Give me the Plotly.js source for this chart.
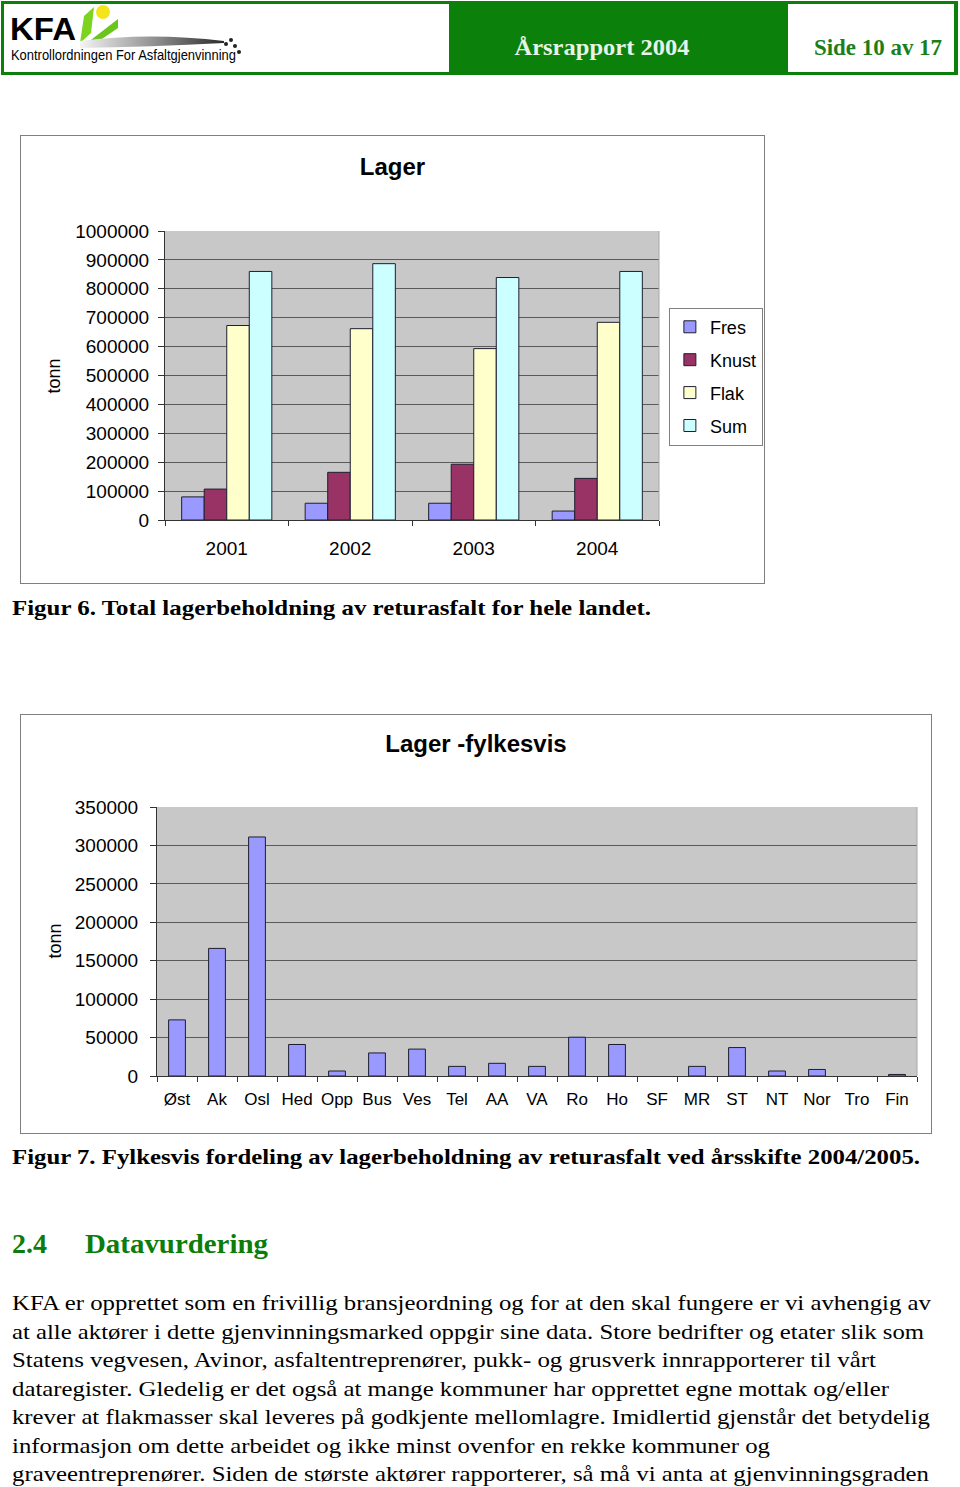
<!DOCTYPE html>
<html>
<head>
<meta charset="utf-8">
<script src="https://cdn.plot.ly/plotly-3.0.1.min.js"></script>
<style>
  html, body { margin:0; padding:0; background:#fff; }
  body { width:960px; height:1487px; position:relative; overflow:hidden; }
  #page { position:absolute; left:0; top:0; }
  .frame { position:absolute; border:1px solid #7f7f7f; background:#fff; }
  #chart1 { left:20px; top:135px; width:743px; height:447px; }
  #chart2 { left:20px; top:714px; width:910px; height:418px; }
</style>
</head>
<body>
<script>
// ---------- chart data ----------
const years = ['2001', '2002', '2003', '2004'];
const fres  = [80000, 58000, 58000, 31000];
const knust = [107000, 165000, 193000, 144000];
const flak  = [673000, 662000, 593000, 684000];
const sum   = [860000, 887000, 839000, 860000];

const fylker = ['Øst','Ak','Osl','Hed','Opp','Bus','Ves','Tel','AA','VA','Ro','Ho','SF','MR','ST','NT','Nor','Tro','Fin'];
const lager  = [73000, 166000, 311000, 41000, 6500, 30000, 35000, 12500, 16500, 12500, 50500, 41000, 0, 12500, 37000, 6500, 8500, 0, 2000];

// ---------- page text ----------
const caption6 = 'Figur 6. Total lagerbeholdning av returasfalt for hele landet.';
const caption7 = 'Figur 7. Fylkesvis fordeling av lagerbeholdning av returasfalt ved årsskifte 2004/2005.';
const paragraph = [
  'KFA er opprettet som en frivillig bransjeordning og for at den skal fungere er vi avhengig av',
  'at alle aktører i dette gjenvinningsmarked oppgir sine data. Store bedrifter og etater slik som',
  'Statens vegvesen, Avinor, asfaltentreprenører, pukk- og grusverk innrapporterer til vårt',
  'dataregister. Gledelig er det også at mange kommuner har opprettet egne mottak og/eller',
  'krever at flakmasser skal leveres på godkjente mellomlagre. Imidlertid gjenstår det betydelig',
  'informasjon om dette arbeidet og ikke minst ovenfor en rekke kommuner og',
  'graveentreprenører. Siden de største aktører rapporterer, så må vi anta at gjenvinningsgraden'
];
</script>

<svg id="page" width="960" height="1487" xmlns="http://www.w3.org/2000/svg">
  <defs>
    <linearGradient id="swoosh" x1="0" x2="1" y1="0" y2="0">
      <stop offset="0" stop-color="#f4f4f4"/>
      <stop offset="0.55" stop-color="#8a8a8a"/>
      <stop offset="1" stop-color="#2a2a2a"/>
    </linearGradient>
  </defs>
  <!-- header -->
  <rect x="1" y="1" width="957" height="74" fill="#0b800b"/>
  <rect x="4" y="4" width="445" height="68" fill="#ffffff"/>
  <rect x="788" y="4" width="166" height="68" fill="#ffffff"/>
  <!-- logo -->
  <polygon points="80,43 84,16 94,7 91,33" fill="#7ed321"/>
  <polygon points="87,43 118,19 118,28 96,43" fill="#6cc51c"/>
  <circle cx="103" cy="12" r="7" fill="#f4e51a"/>
  <path d="M80,41 Q150,32 224,41 L224,43 Q150,47 80,48 Z" fill="url(#swoosh)"/>
  <circle cx="226" cy="44" r="2" fill="#222"/>
  <circle cx="231" cy="40" r="2" fill="#222"/>
  <circle cx="235" cy="46" r="2" fill="#222"/>
  <circle cx="239" cy="52" r="2" fill="#222"/>
  <text x="10" y="40" font-family="Arial, 'Liberation Sans', sans-serif" font-weight="bold" font-size="32" fill="#000" textLength="66" lengthAdjust="spacingAndGlyphs">KFA</text>
  <text x="11" y="60" font-family="Arial, 'Liberation Sans', sans-serif" font-size="14" fill="#000" textLength="225" lengthAdjust="spacingAndGlyphs">Kontrollordningen For Asfaltgjenvinning</text>
  <text x="602" y="55" text-anchor="middle" font-family="'Liberation Serif', 'Times New Roman', serif" font-weight="bold" font-size="23" fill="#e6f3e6" textLength="175" lengthAdjust="spacingAndGlyphs">Årsrapport 2004</text>
  <text x="878" y="55" text-anchor="middle" font-family="'Liberation Serif', 'Times New Roman', serif" font-weight="bold" font-size="23" fill="#1a7f1a" textLength="128" lengthAdjust="spacingAndGlyphs">Side 10 av 17</text>
  <g id="bodytext" font-family="'Liberation Serif', 'Times New Roman', serif" fill="#000"></g>
</svg>

<div id="chart1" class="frame"></div>
<div id="chart2" class="frame"></div>

<script>
// ---------- body text into svg ----------
(function(){
  const NS = 'http://www.w3.org/2000/svg';
  const g = document.getElementById('bodytext');
  function addText(str, x, y, size, opts) {
    const t = document.createElementNS(NS, 'text');
    t.setAttribute('x', x); t.setAttribute('y', y);
    t.setAttribute('font-size', size);
    if (opts.bold) t.setAttribute('font-weight', 'bold');
    if (opts.fill) t.setAttribute('fill', opts.fill);
    if (opts.len) { t.setAttribute('textLength', opts.len); t.setAttribute('lengthAdjust', 'spacingAndGlyphs'); }
    t.textContent = str;
    g.appendChild(t);
  }
  addText(caption6, 12, 615, 22, {bold:true, len:639});
  addText(caption7, 12, 1164, 22, {bold:true, len:908});
  addText('2.4', 12, 1253, 27, {bold:true, fill:'#0b7d0b', len:35});
  addText('Datavurdering', 85, 1253, 27, {bold:true, fill:'#0b7d0b', len:183});
  const lineLen = [919, 912, 864, 877, 918, 758, 917];
  paragraph.forEach((s, i) => addText(s, 12, 1310 + i * 28.5, 22, {len: lineLen[i]}));
})();

// ---------- charts ----------
const FONT = 'Arial, "Liberation Sans", sans-serif';
const barLine = {color:'#1e1e30', width:1};

const series1 = [
  {name:'Fres',  y:fres,  color:'#9999ff'},
  {name:'Knust', y:knust, color:'#993366'},
  {name:'Flak',  y:flak,  color:'#ffffcc'},
  {name:'Sum',   y:sum,   color:'#ccffff'}
];
const traces1 = series1.map(s => ({
  type:'bar', x:years, y:s.y, name:s.name, legendgroup:s.name,
  marker:{color:s.color, line:barLine}
}));

const H1 = 447;
const layout1 = {
  width:743, height:H1,
  margin:{l:144, r:105, t:95, b:63, autoexpand:false},
  paper_bgcolor:'#ffffff', plot_bgcolor:'#c8c8c8',
  font:{family:FONT, color:'#000'},
  title:{text:'<b>Lager</b>', font:{size:24, family:FONT, color:'#000'}, x:0.5, xref:'container', xanchor:'center', y:1 - 31/H1, yref:'container', yanchor:'middle'},
  barmode:'group', bargap:0.27, bargroupgap:0,
  xaxis:{type:'category', showline:true, linecolor:'#333', linewidth:1, ticks:'outside', tickson:'boundaries', ticklen:5, tickcolor:'#333', tickfont:{size:19}, ticklabelstandoff:11, showgrid:false, zeroline:false, fixedrange:true, automargin:false},
  yaxis:{range:[0,1000000], dtick:100000, tickformat:'d', showline:true, linecolor:'#333', ticks:'outside', ticklen:6, tickcolor:'#333', tickfont:{size:19}, ticklabelstandoff:5, gridcolor:'#5a5a5a', gridwidth:1, zeroline:false, fixedrange:true, automargin:false},
  legend:{x:1.02, xanchor:'left', y:0.735, yanchor:'top', bordercolor:'#808080', borderwidth:1, bgcolor:'#ffffff', font:{size:18}, tracegroupgap:6.5, itemwidth:30},
  shapes:[{type:'line', xref:'paper', yref:'paper', x0:1, x1:1, y0:0, y1:1, line:{color:'#a8a8a8', width:1}}],
  annotations:[{text:'tonn', xref:'paper', yref:'paper', x:-0.2247, y:0.5, xanchor:'center', yanchor:'middle', textangle:-90, showarrow:false, font:{size:18}}]
};

const H2 = 418;
const traces2 = [{
  type:'bar', x:fylker, y:lager, name:'Lager',
  marker:{color:'#9999ff', line:{color:barLine.color, width:lager.map(v => v > 0 ? 1 : 0)}}, showlegend:false
}];
const layout2 = {
  width:910, height:H2,
  margin:{l:136, r:14, t:92, b:57, autoexpand:false},
  paper_bgcolor:'#ffffff', plot_bgcolor:'#c8c8c8',
  font:{family:FONT, color:'#000'},
  title:{text:'<b>Lager -fylkesvis</b>', font:{size:24, family:FONT, color:'#000'}, x:0.5, xref:'container', xanchor:'center', y:1 - 29/H2, yref:'container', yanchor:'middle'},
  bargap:0.58,
  xaxis:{type:'category', showline:true, linecolor:'#333', linewidth:1, ticks:'outside', tickson:'boundaries', ticklen:5, tickcolor:'#333', tickfont:{size:17}, ticklabelstandoff:8, showgrid:false, zeroline:false, tickangle:0, fixedrange:true, automargin:false},
  yaxis:{range:[0,350000], dtick:50000, tickformat:'d', showline:true, linecolor:'#333', ticks:'outside', ticklen:6, tickcolor:'#333', tickfont:{size:19}, ticklabelstandoff:8, gridcolor:'#5a5a5a', gridwidth:1, zeroline:false, fixedrange:true, automargin:false},
  showlegend:false,
  shapes:[{type:'line', xref:'paper', yref:'paper', x0:1, x1:1, y0:0, y1:1, line:{color:'#a8a8a8', width:1}}],
  annotations:[{text:'tonn', xref:'paper', yref:'paper', x:-0.1355, y:0.5, xanchor:'center', yanchor:'middle', textangle:-90, showarrow:false, font:{size:18}}]
};

const cfg = {staticPlot:true, displayModeBar:false};
Plotly.newPlot('chart1', traces1, layout1, cfg);
Plotly.newPlot('chart2', traces2, layout2, cfg);
</script>
</body>
</html>
